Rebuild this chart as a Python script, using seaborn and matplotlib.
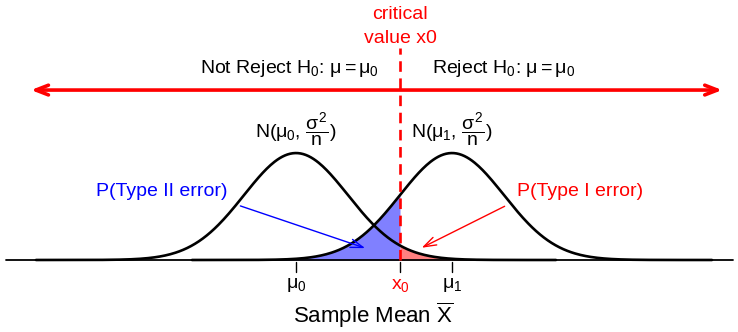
import numpy as np
import pandas as pd
import matplotlib
matplotlib.use("Agg")
import matplotlib.pyplot as plt
import seaborn as sns

# parameters
mu0 = 0.0
mu1 = 3.0
x0 = 2.0
sigma = 1.0
half_width = 5.0
tick_pos = [mu0, x0, mu1]
tick_labels = [r"$\mu_0$", r"$x_0$", r"$\mu_1$"]
tick_colors = ["black", "red", "black"]

sns.set_style("white")
plt.rcParams["font.family"] = ["Liberation Sans", "DejaVu Sans"]
plt.rcParams["mathtext.fontset"] = "custom"
plt.rcParams["mathtext.rm"] = "Liberation Sans"
plt.rcParams["mathtext.it"] = "Liberation Sans"
plt.rcParams["text.color"] = "black"

def dens(x, m):
    return np.exp(-0.5 * ((x - m) / sigma) ** 2) / (sigma * np.sqrt(2 * np.pi))

xa = np.linspace(mu0 - half_width, mu0 + half_width, 400)
xb = np.linspace(mu1 - half_width, mu1 + half_width, 400)
df = pd.concat([
    pd.DataFrame({"x": xa, "y": dens(xa, mu0), "curve": "H0"}),
    pd.DataFrame({"x": xb, "y": dens(xb, mu1), "curve": "H1"}),
])

fig = plt.figure(figsize=(7.38, 3.32), dpi=100)
ax = fig.add_axes([0, 0, 1, 1])
ax.set_xlim(-5.692, 8.5)
ax.set_ylim(-0.2687, 0.970)
ax.axis("off")

# shaded error areas
xs = np.append(xb[xb <= x0], x0)
ax.fill_between(xs, 0, dens(xs, mu1), color="#8080ff", lw=0)
xr = np.insert(xa[xa >= x0], 0, x0)
ax.fill_between(xr, 0, dens(xr, mu0), color="#ff8080", lw=0)

ax.axhline(0, xmin=0.008, xmax=0.993, color="black", lw=1.3)
sns.lineplot(data=df, x="x", y="y", units="curve", estimator=None, color="black", lw=1.9, ax=ax)

# critical value line
ax.plot([x0, x0], [0, 0.79], color="red", lw=1.9, ls=(0, (4, 2.5)))
ax.text(x0, 0.915, "critical", color="red", ha="center", va="center", fontsize=14)
ax.text(x0, 0.828, "value x0", color="red", ha="center", va="center", fontsize=14)

# decision arrow
ax.annotate("", xy=(-5.15, 0.634), xytext=(8.25, 0.634),
            arrowprops=dict(arrowstyle="<->,head_length=0.9,head_width=0.35", color="red", lw=2.6))
ax.text(-0.12, 0.716, r"Not Reject H$_0$: $\mu=\mu_0$", ha="center", va="center", fontsize=14)
ax.text(4.0, 0.716, r"Reject H$_0$: $\mu=\mu_0$", ha="center", va="center", fontsize=14)

# distribution labels
ax.text(mu0, 0.49, r"N($\mu_0$, $\dfrac{\sigma^2}{n}$)", ha="center", va="center", fontsize=14)
ax.text(mu1, 0.49, r"N($\mu_1$, $\dfrac{\sigma^2}{n}$)", ha="center", va="center", fontsize=14)

# error labels
ax.text(-2.58, 0.254, "P(Type II error)", color="blue", ha="center", va="center", fontsize=14)
ax.annotate("", xy=(1.38, 0.041), xytext=(-1.12, 0.205),
            arrowprops=dict(arrowstyle="->,head_length=0.9,head_width=0.3", color="blue", lw=1))
ax.text(5.46, 0.254, "P(Type I error)", color="red", ha="center", va="center", fontsize=14)
ax.annotate("", xy=(2.37, 0.041), xytext=(4.06, 0.205),
            arrowprops=dict(arrowstyle="->,head_length=0.9,head_width=0.3", color="red", lw=1))

# ticks
for p, lab, c in zip(tick_pos, tick_labels, tick_colors):
    ax.plot([p, p], [-0.007, -0.045], color="black", lw=1)
    ax.text(p, -0.095, lab, color=c, ha="center", va="center", fontsize=14)
ax.text(mu0 + 1.48, -0.262, r"Sample Mean $\overline{\mathrm{X}}$", ha="center", va="bottom", fontsize=16)

fig.savefig("out.png", dpi=100)
